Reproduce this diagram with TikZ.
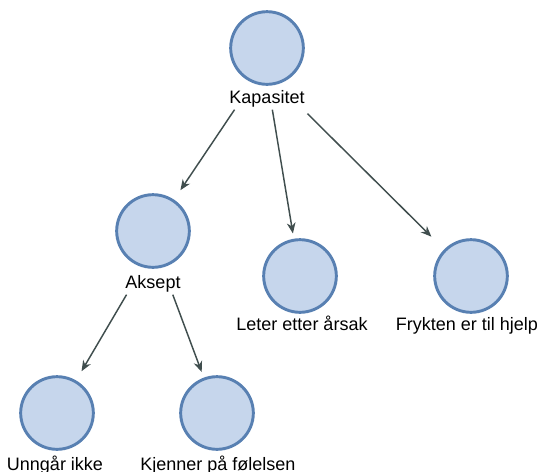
\documentclass[tikz,border=0pt]{standalone}
\usepackage{fontspec}
\setmainfont{Liberation Sans}
\usepackage{tikz}
\usetikzlibrary{arrows.meta}

\definecolor{nodefill}{RGB}{198,214,236}
\definecolor{nodeline}{RGB}{88,128,178}
\definecolor{linkcol}{RGB}{64,78,78}

\begin{document}
\begin{tikzpicture}[x=0.75pt,y=0.75pt,yscale=-1,xscale=1,
  bubble/.style={circle, draw=nodeline, fill=nodefill, line width=2.2pt, minimum size=54.5pt, inner sep=0pt},
  lbl/.style={anchor=base, inner sep=2pt, font=\fontsize{13.5}{16}\selectfont},
  link/.style={draw=linkcol, line width=1.1pt, -{Stealth[length=8pt,width=6.5pt,inset=2.5pt]}}]
%set diagram frame: 540 x 472
\useasboundingbox (0,0) rectangle (540,472);

%Shape: Circle
\node [bubble] (kap) at (267,48) {};
%Shape: Circle
\node [bubble] (aks) at (153,231) {};
%Shape: Circle
\node [bubble] (let) at (300,276) {};
%Shape: Circle
\node [bubble] (fry) at (471,276) {};
%Shape: Circle
\node [bubble] (ung) at (57,413) {};
%Shape: Circle
\node [bubble] (kje) at (217,413) {};

% Text Node
\node [lbl] (kapl) at (267,103) {Kapasitet};
% Text Node
\node [lbl] (aksl) at (153,288) {Aksept};
% Text Node
\node [lbl] (letl) at (302,330) {Leter etter årsak};
% Text Node
\node [lbl] (fryl) at (467,330) {Frykten er til hjelp};
% Text Node
\node [lbl] (ungl) at (55,470) {Unngår ikke};
% Text Node
\node [lbl] (kjel) at (218,470) {Kjenner på følelsen};

%Straight Lines
\draw [link, shorten >=8.5pt] ([xshift=6pt]kapl.south west) -- (aks);
%Straight Lines
\draw [link, shorten >=4pt] ([xshift=4pt]kapl.south) -- (let);
%Straight Lines
\draw [link, shorten >=13.5pt] ([yshift=3pt]kapl.south east) -- (fry);
%Straight Lines
\draw [link, shorten >=8pt] ([xshift=3pt]aksl.south west) -- (ung);
%Straight Lines
\draw [link, shorten >=4.5pt] ([xshift=-8pt]aksl.south east) -- (kje);

\end{tikzpicture}
\end{document}
